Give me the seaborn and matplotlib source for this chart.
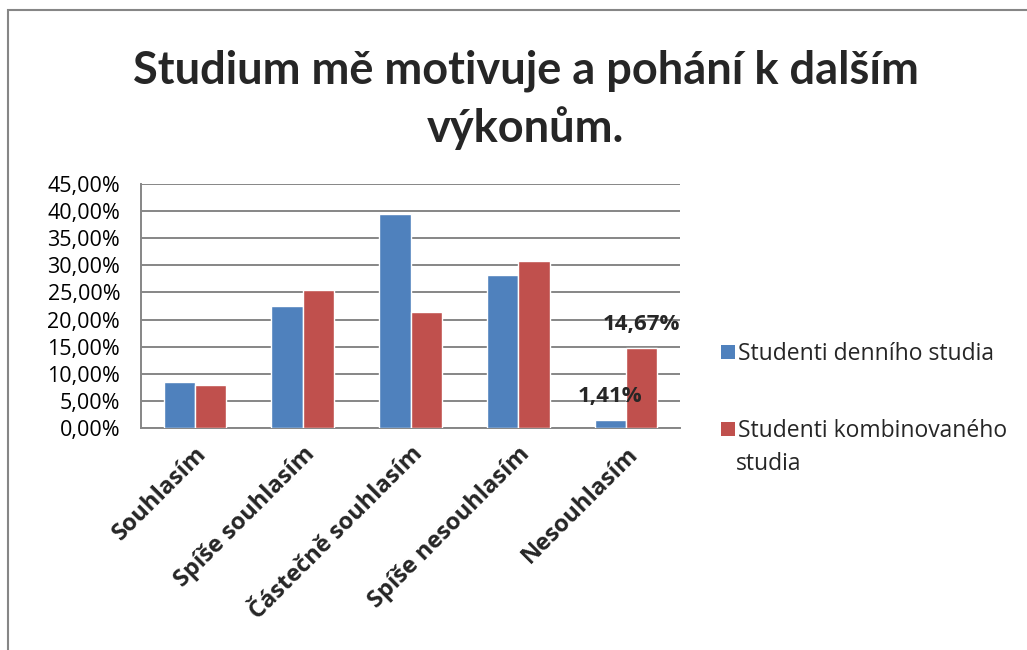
import matplotlib
matplotlib.use("Agg")
import matplotlib.pyplot as plt
import seaborn as sns
import pandas as pd
from matplotlib.patches import Rectangle, Patch
from matplotlib.ticker import FuncFormatter

categories = ["Souhlasím", "Spíše souhlasím", "Částečně souhlasím",
              "Spíše nesouhlasím", "Nesouhlasím"]
series_names = ["Studenti denního studia", "Studenti kombinovaného studia"]
denni = [8.44, 22.54, 39.53, 28.20, 1.41]
kombinovane = [7.94, 25.37, 21.37, 30.79, 14.67]
colors = ["#4F81BD", "#C0504D"]

df = pd.DataFrame({
    "kategorie": categories * 2,
    "skupina": [series_names[0]] * 5 + [series_names[1]] * 5,
    "hodnota": denni + kombinovane,
})

sns.set_theme(style="white")
plt.rcParams["font.family"] = ["Open Sans", "DejaVu Sans"]

fig = plt.figure(figsize=(10.27, 6.5), dpi=100)
ax = fig.add_axes([141 / 1027, 1 - 428 / 650, 539 / 1027, 244 / 650])

sns.barplot(data=df, x="kategorie", y="hodnota", hue="skupina",
            palette=colors, width=0.58, saturation=1, ax=ax, legend=False,
            zorder=3)

ax.set_ylim(0, 45)
ax.set_yticks(range(0, 50, 5))
ax.yaxis.set_major_formatter(FuncFormatter(lambda v, _: f"{v:.2f}%".replace(".", ",")))
ax.grid(axis="y", color="#868686", linewidth=1.4, zorder=0)
ax.set_axisbelow(True)
ax.set_xlabel("")
ax.set_ylabel("")
for side in ["top", "right"]:
    ax.spines[side].set_visible(False)
for side in ["left", "bottom"]:
    ax.spines[side].set_color("#868686")
    ax.spines[side].set_linewidth(1.4)
ax.tick_params(axis="y", labelsize=15.5, length=0, pad=15, colors="black")
ax.tick_params(axis="x", length=0, pad=10)
ax.set_xticks(range(len(categories)))
ax.set_xticklabels(categories, rotation=45, ha="right", rotation_mode="anchor",
                   fontsize=17, fontweight="bold")

# Value labels on the last category
bars_d = ax.containers[0]
bars_k = ax.containers[1]
for bar, val in [(bars_d[4], denni[4]), (bars_k[4], kombinovane[4])]:
    ax.annotate(f"{val:.2f}%".replace(".", ","),
                (bar.get_x() + bar.get_width() / 2, val),
                xytext=(0, 13.5), textcoords="offset points",
                ha="center", va="baseline", fontsize=16, fontweight="bold")

# Legend: square markers, second label wraps onto a continuation line
handles = [Patch(facecolor=c, edgecolor="none") for c in colors]
fig.legend(handles, ["Studenti denního studia", "Studenti kombinovaného"],
           loc="upper left", bbox_to_anchor=(712 / 1027, 1 - 333 / 650),
           frameon=False, fontsize=16.5, handlelength=0.6, handleheight=0.6,
           handletextpad=0.15, labelspacing=2.3, borderaxespad=0)
fig.text(736 / 1027, 1 - 464 / 650, "studia", fontsize=16.5,
         ha="left", va="center")

fig.suptitle("Studium mě motivuje a pohání k dalším\nvýkonům.",
             x=0.512, y=1 - 50 / 650, va="top", fontsize=32.5, fontweight="bold",
             linespacing=1.38, family=["Lato", "DejaVu Sans"])

fig.patches.append(Rectangle((8 / 1027, -0.1), 1.2, 1 - 10 / 650 + 0.1,
                             transform=fig.transFigure, fill=False,
                             edgecolor="#868686", linewidth=1.5))

fig.savefig("out.png", dpi=100)
